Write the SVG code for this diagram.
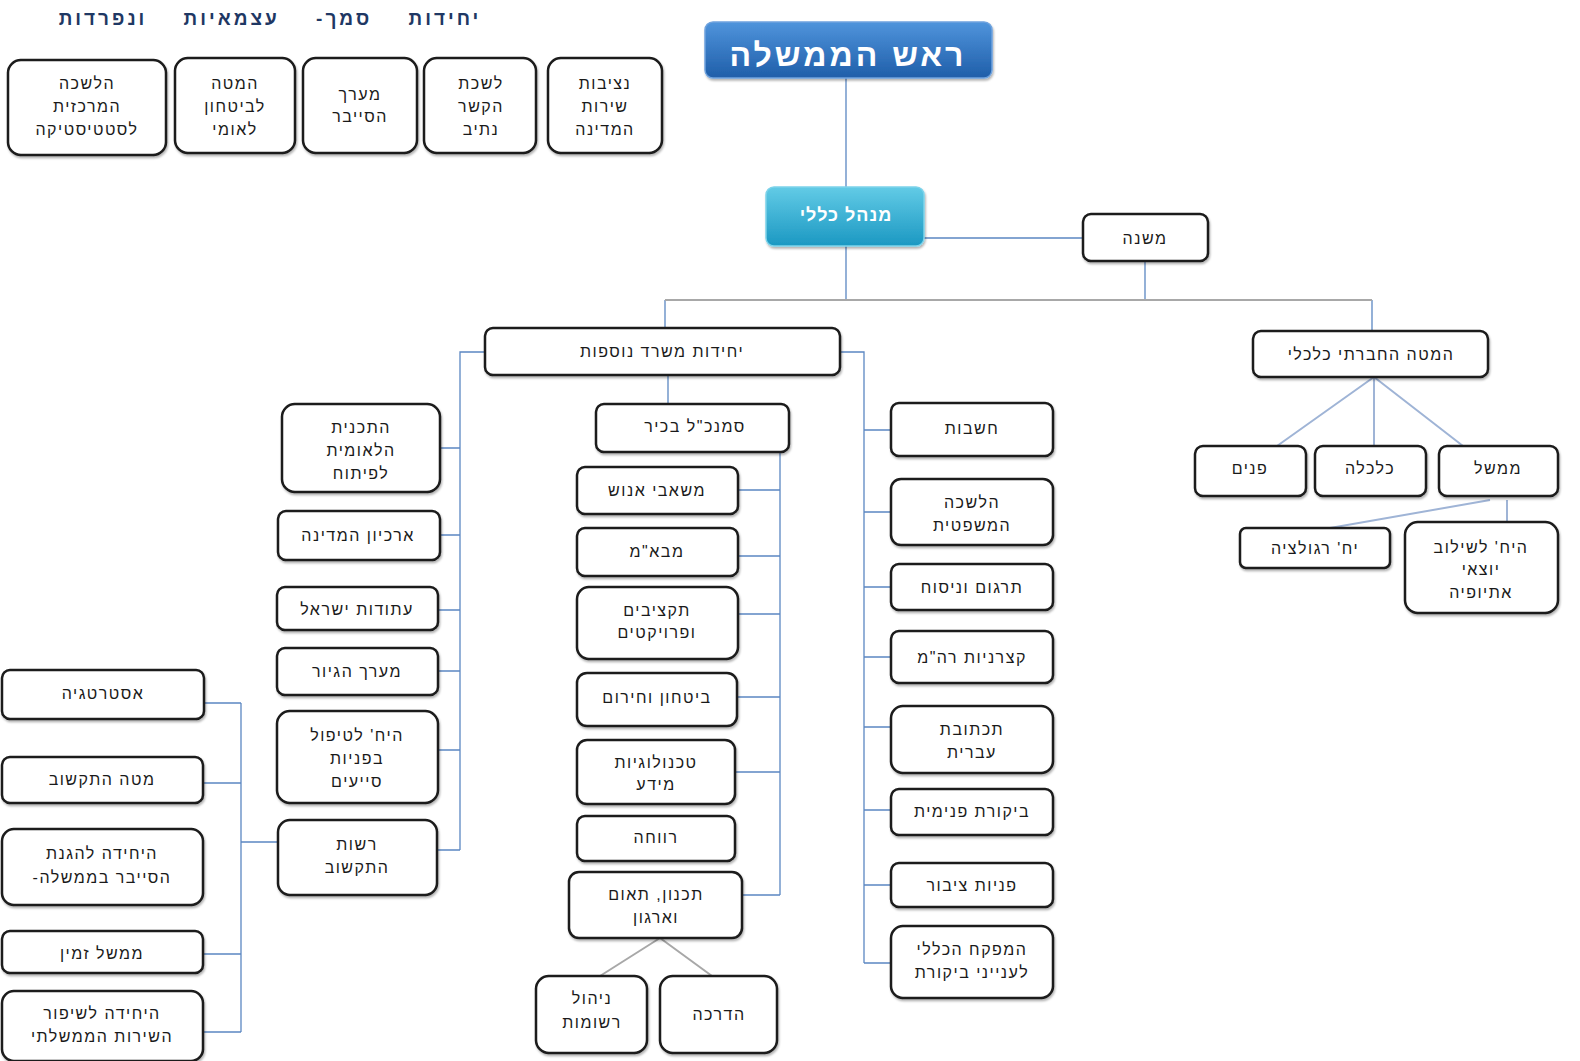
<svg xmlns="http://www.w3.org/2000/svg" width="1580" height="1061" viewBox="0 0 1580 1061">
<style>
.box{fill:#fff;stroke:#1a1a1a;stroke-width:2.5;filter:url(#sh)}
.t{font-family:"Liberation Sans","DejaVu Sans",sans-serif;font-size:16px;fill:#1a1a1a;text-anchor:middle;letter-spacing:1.5px;direction:rtl}
.hdr{font-family:"Liberation Sans","DejaVu Sans",sans-serif;font-size:19px;font-weight:bold;fill:#1f3864;text-anchor:middle;letter-spacing:3px;word-spacing:28px;direction:rtl}
.w{font-family:"Liberation Sans","DejaVu Sans",sans-serif;fill:#fff;font-weight:bold;text-anchor:middle;direction:rtl}
.c{fill:none;stroke:#5b87c2;stroke-width:1.3}
.g{fill:none;stroke:#a8a8a8;stroke-width:2}
.d{fill:none;stroke:#9fb4d6;stroke-width:2}
</style>
<defs>
<filter id="sh" x="-10%" y="-10%" width="125%" height="130%">
<feDropShadow dx="1" dy="2" stdDeviation="1" flood-color="#000" flood-opacity="0.3"/>
</filter>
<linearGradient id="blue" x1="0" y1="0" x2="0" y2="1">
<stop offset="0" stop-color="#4f94dc"/><stop offset="1" stop-color="#1f5ea9"/>
</linearGradient>
<linearGradient id="teal" x1="0" y1="0" x2="0" y2="1">
<stop offset="0" stop-color="#62cbe6"/><stop offset="1" stop-color="#1b98c2"/>
</linearGradient>
</defs>
<rect width="1580" height="1061" fill="#fff"/>

<text class="hdr" x="270" y="25">יחידות סמך- עצמאיות ונפרדות</text>

<g id="connectors">
<path class="c" d="M846 78V187M924 238H1083M846 246V300M1145 261V300M665 300V328M1372 300V331"/>
<path class="g" d="M665 300H1372"/>
<path class="d" d="M1374 377L1277 446M1374 377V446M1374 377L1463 446M1490 500L1330 528M1507 500V522"/>
<path class="c" d="M668 375V404"/>
<path class="c" d="M840 352H864V963M864 430H891M864 512H891M864 587H891M864 657H891M864 727H891M864 810H891M864 885H891M864 963H891"/>
<path class="c" d="M485 352H460V850M440 448H460M440 535H460M438 610H460M438 671H460M438 750H460M437 850H460"/>
<path class="c" d="M780 452V895M738 490H780M738 556H780M738 614H780M737 697H780M735 772H780M742 895H780"/>
<path class="g" d="M660 938L600 976M660 938L712 976"/>
<path class="c" d="M204 703H241M203 783H241M203 954H241M203 1032H241M241 703V1032M241 842H278"/>
</g>

<g id="n-lms"><rect class="box" x="8" y="60" width="158" height="95" rx="13"/><text class="t" x="87" y="89">הלשכה</text><text class="t" x="87" y="112">המרכזית</text><text class="t" x="87" y="135">לסטטיסטיקה</text></g>
<g id="n-mll"><rect class="box" x="175" y="58" width="120" height="95" rx="13"/><text class="t" x="235" y="89">המטה</text><text class="t" x="235" y="112">לביטחון</text><text class="t" x="235" y="135">לאומי</text></g>
<g id="n-cyber"><rect class="box" x="303" y="58" width="114" height="95" rx="13"/><text class="t" x="360" y="100">מערך</text><text class="t" x="360" y="122">הסייבר</text></g>
<g id="n-nativ"><rect class="box" x="424" y="58" width="112" height="95" rx="13"/><text class="t" x="481" y="89">לשכת</text><text class="t" x="481" y="112">הקשר</text><text class="t" x="481" y="135">נתיב</text></g>
<g id="n-nsc"><rect class="box" x="548" y="58" width="114" height="95" rx="13"/><text class="t" x="605" y="89">נציבות</text><text class="t" x="605" y="112">שירות</text><text class="t" x="605" y="135">המדינה</text></g>

<g id="n-pm"><rect x="705" y="22" width="287" height="56" rx="8" fill="url(#blue)" stroke="#6fa3de" stroke-width="1.5" filter="url(#sh)"/><text class="w" x="848" y="66" font-size="32" letter-spacing="3">ראש הממשלה</text></g>
<g id="n-dg"><rect x="766" y="187" width="158" height="59" rx="8" fill="url(#teal)" stroke="#7dd3ea" stroke-width="1.5" filter="url(#sh)"/><text class="w" x="846" y="221" font-size="18" letter-spacing="1">מנהל כללי</text></g>
<g id="n-deputy"><rect class="box" x="1083" y="214" width="125" height="47" rx="8"/><text class="t" x="1145" y="244">משנה</text></g>

<g id="n-socecon"><rect class="box" x="1253" y="331" width="235" height="46" rx="8"/><text class="t" x="1371" y="360">המטה החברתי כלכלי</text></g>
<g id="n-pnim"><rect class="box" x="1195" y="446" width="111" height="50" rx="8"/><text class="t" x="1250" y="474">פנים</text></g>
<g id="n-kalkala"><rect class="box" x="1315" y="446" width="111" height="50" rx="8"/><text class="t" x="1370" y="474">כלכלה</text></g>
<g id="n-memshal"><rect class="box" x="1439" y="446" width="119" height="50" rx="8"/><text class="t" x="1498" y="474">ממשל</text></g>
<g id="n-regulation"><rect class="box" x="1240" y="528" width="150" height="40" rx="6"/><text class="t" x="1315" y="554">יח' רגולציה</text></g>
<g id="n-ethiopia"><rect class="box" x="1405" y="522" width="153" height="91" rx="13"/><text class="t" x="1481" y="553">היח' לשילוב</text><text class="t" x="1481" y="575">יוצאי</text><text class="t" x="1481" y="598">אתיופיה</text></g>

<g id="n-more"><rect class="box" x="485" y="328" width="355" height="47" rx="8"/><text class="t" x="662" y="357">יחידות משרד נוספות</text></g>
<g id="n-sr"><rect class="box" x="596" y="404" width="193" height="48" rx="8"/><text class="t" x="695" y="432">סמנכ"ל בכיר</text></g>
<g id="n-hr"><rect class="box" x="577" y="467" width="161" height="47" rx="8"/><text class="t" x="657" y="496">משאבי אנוש</text></g>
<g id="n-mbam"><rect class="box" x="577" y="528" width="161" height="48" rx="8"/><text class="t" x="657" y="557">מבא"מ</text></g>
<g id="n-budget"><rect class="box" x="577" y="587" width="161" height="72" rx="12"/><text class="t" x="657" y="616">תקציבים</text><text class="t" x="657" y="638">ופרויקטים</text></g>
<g id="n-security"><rect class="box" x="577" y="673" width="160" height="53" rx="10"/><text class="t" x="657" y="703">ביטחון וחירום</text></g>
<g id="n-it"><rect class="box" x="577" y="740" width="158" height="64" rx="10"/><text class="t" x="656" y="768">טכנולוגיות</text><text class="t" x="656" y="790">מידע</text></g>
<g id="n-welfare"><rect class="box" x="577" y="816" width="158" height="45" rx="8"/><text class="t" x="656" y="843">רווחה</text></g>
<g id="n-planning"><rect class="box" x="569" y="872" width="173" height="66" rx="10"/><text class="t" x="656" y="900">תכנון, תאום</text><text class="t" x="656" y="923">וארגון</text></g>
<g id="n-records"><rect class="box" x="536" y="976" width="111" height="77" rx="13"/><text class="t" x="592" y="1004">ניהול</text><text class="t" x="592" y="1028">רשומות</text></g>
<g id="n-training"><rect class="box" x="660" y="976" width="117" height="77" rx="13"/><text class="t" x="719" y="1020">הדרכה</text></g>

<g id="n-accounting"><rect class="box" x="891" y="403" width="162" height="53" rx="8"/><text class="t" x="972" y="434">חשבות</text></g>
<g id="n-legal"><rect class="box" x="891" y="479" width="162" height="66" rx="10"/><text class="t" x="972" y="508">הלשכה</text><text class="t" x="972" y="531">המשפטית</text></g>
<g id="n-translation"><rect class="box" x="891" y="564" width="162" height="46" rx="8"/><text class="t" x="972" y="593">תרגום וניסוח</text></g>
<g id="n-steno"><rect class="box" x="891" y="631" width="162" height="52" rx="8"/><text class="t" x="972" y="663">קצרניות רה"מ</text></g>
<g id="n-hebrew"><rect class="box" x="891" y="706" width="162" height="67" rx="12"/><text class="t" x="972" y="735">תכתובת</text><text class="t" x="972" y="758">עברית</text></g>
<g id="n-audit"><rect class="box" x="891" y="789" width="162" height="46" rx="8"/><text class="t" x="972" y="817">ביקורת פנימית</text></g>
<g id="n-public"><rect class="box" x="891" y="863" width="162" height="44" rx="8"/><text class="t" x="972" y="891">פניות ציבור</text></g>
<g id="n-inspector"><rect class="box" x="891" y="926" width="162" height="72" rx="12"/><text class="t" x="972" y="955">המפקח הכללי</text><text class="t" x="972" y="978">לענייני ביקורת</text></g>

<g id="n-natplan"><rect class="box" x="282" y="404" width="158" height="88" rx="13"/><text class="t" x="361" y="433">התכנית</text><text class="t" x="361" y="456">הלאומית</text><text class="t" x="361" y="479">לפיתוח</text></g>
<g id="n-archive"><rect class="box" x="278" y="511" width="162" height="49" rx="8"/><text class="t" x="358" y="541">ארכיון המדינה</text></g>
<g id="n-reserves"><rect class="box" x="277" y="587" width="161" height="43" rx="8"/><text class="t" x="357" y="615">עתודות ישראל</text></g>
<g id="n-conversion"><rect class="box" x="277" y="648" width="161" height="47" rx="8"/><text class="t" x="357" y="677">מערך הגיור</text></g>
<g id="n-aides"><rect class="box" x="277" y="711" width="161" height="92" rx="13"/><text class="t" x="357" y="741">היח' לטיפול</text><text class="t" x="357" y="764">בפניות</text><text class="t" x="357" y="787">סייעים</text></g>
<g id="n-ict"><rect class="box" x="278" y="820" width="159" height="75" rx="12"/><text class="t" x="357" y="850">רשות</text><text class="t" x="357" y="873">התקשוב</text></g>

<g id="n-strategy"><rect class="box" x="2" y="670" width="202" height="49" rx="8"/><text class="t" x="103" y="699">אסטרטגיה</text></g>
<g id="n-ictstaff"><rect class="box" x="2" y="757" width="201" height="46" rx="8"/><text class="t" x="102" y="785">מטה התקשוב</text></g>
<g id="n-cyberdef"><rect class="box" x="2" y="829" width="201" height="76" rx="12"/><text class="t" x="102" y="859">היחידה להגנת</text><text class="t" x="102" y="883">הסייבר בממשלה-</text></g>
<g id="n-egov"><rect class="box" x="2" y="931" width="201" height="42" rx="8"/><text class="t" x="102" y="959">ממשל זמין</text></g>
<g id="n-service"><rect class="box" x="2" y="991" width="201" height="70" rx="12"/><text class="t" x="102" y="1019">היחידה לשיפור</text><text class="t" x="102" y="1042">השירות הממשלתי</text></g>
</svg>
